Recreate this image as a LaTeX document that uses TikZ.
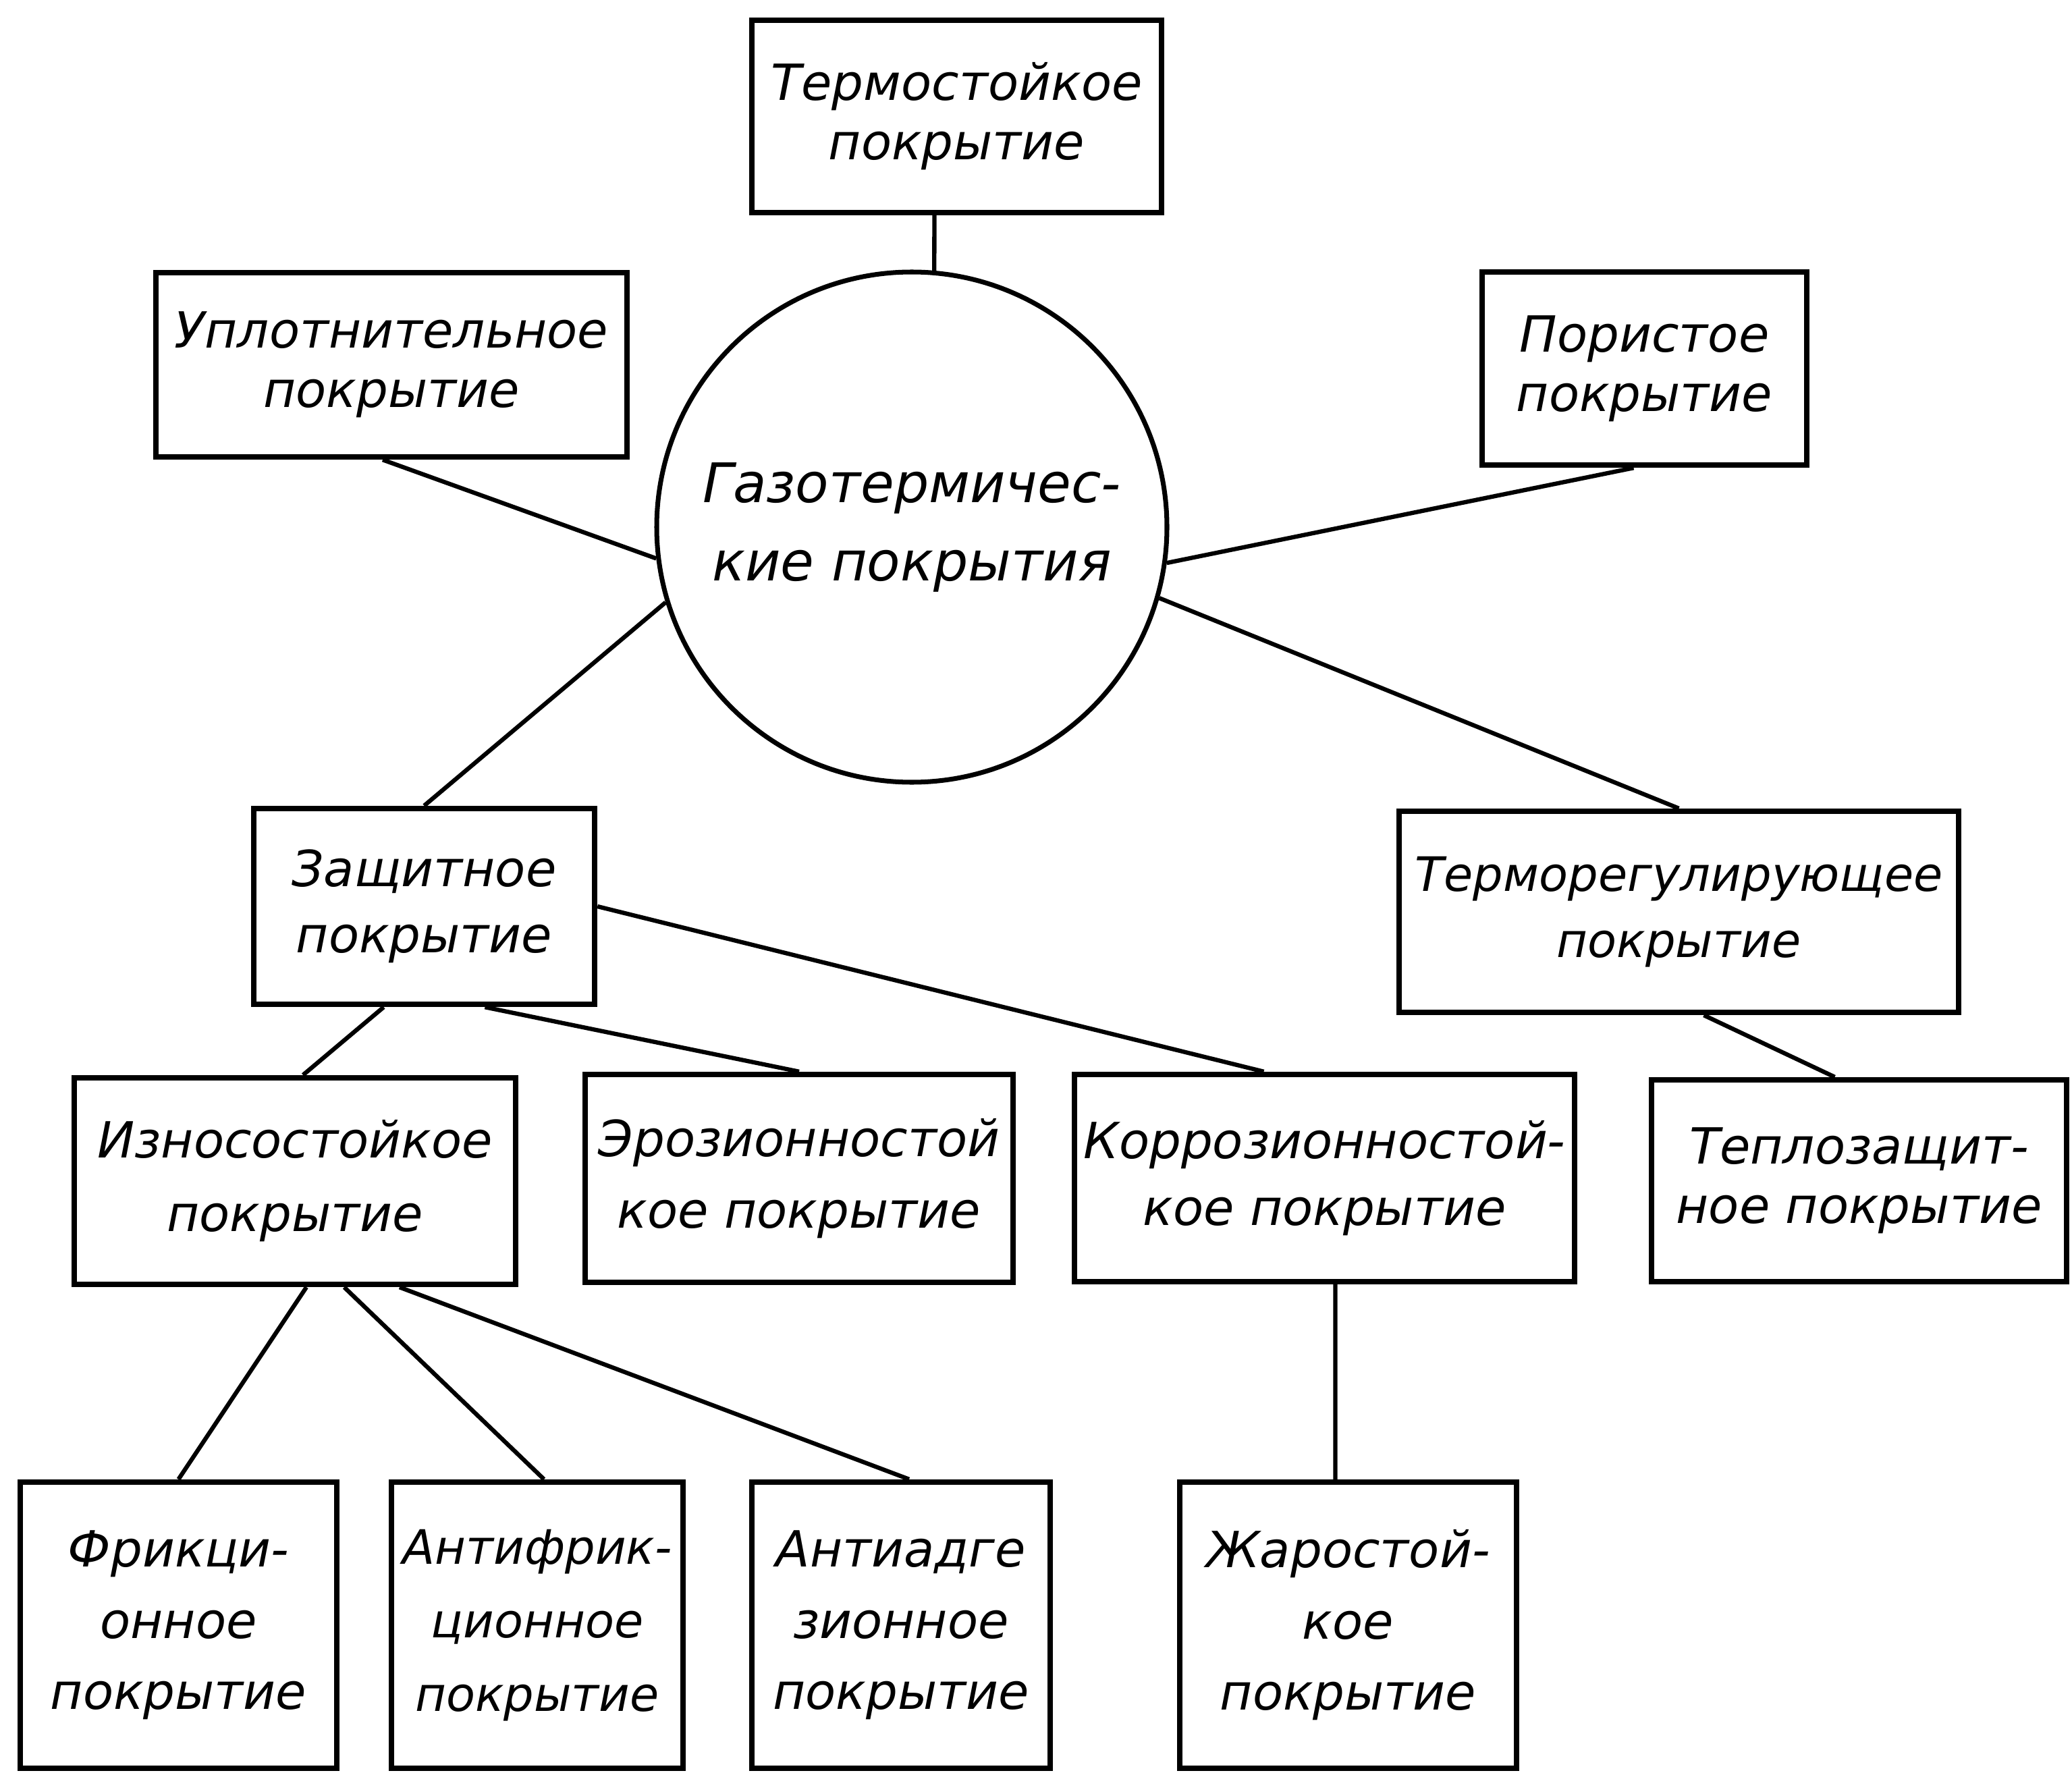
\documentclass[tikz,border=0pt]{standalone}
\usepackage{fontspec}
\setmainfont{DejaVu Sans}
\begin{document}
\begin{tikzpicture}[
        box/.style = {draw, line width = 2.4pt, align = center, inner sep = 0pt,
            font = \fontsize{21}{25}\selectfont\itshape},
        tallbox/.style = {box, minimum height = 4.24cm},
        link/.style = {line width = 1.8pt}
    ]
    \useasboundingbox (0, 0) rectangle (30.70, -26.27);
    \node [draw, circle, line width = 2pt, minimum size = 7.56cm, inner sep = 0pt,
        align = center, font = \fontsize{23}{28}\selectfont\itshape]
        (gaz) at (13.51, -7.81) {Газотермичес-\\[5pt]кие покрытия};
    \node [box, minimum width = 6.07cm, minimum height = 2.85cm] (termo) at (14.175, -1.725) {Термостойкое\\покрытие};
    \node [box, minimum width = 6.98cm, minimum height = 2.73cm] (uplot) at (5.80, -5.405) {Уплотнительное\\покрытие};
    \node [box, minimum width = 4.81cm, minimum height = 2.86cm] (por) at (24.365, -5.46) {Пористое\\покрытие};
    \node [box, minimum width = 5.05cm, minimum height = 2.90cm] (zasch) at (6.285, -13.43) {Защитное\\[3pt]покрытие};
    \node [box, minimum width = 8.29cm, minimum height = 2.98cm, font = \fontsize{20}{25}\selectfont\itshape]
        (termoreg) at (24.875, -13.51) {Терморегулирующее\\[3pt]покрытие};
    \node [box, minimum width = 6.54cm, minimum height = 3.06cm] (izn) at (4.37, -17.50) {Износостойкое\\[6pt]покрытие};
    \node [box, minimum width = 6.34cm, minimum height = 3.08cm] (eroz) at (11.84, -17.46) {Эрозионностой\\[5pt]кое покрытие};
    \node [box, minimum width = 7.41cm, minimum height = 3.07cm] (korr) at (19.625, -17.455) {Коррозионностой-\\[3pt]кое покрытие};
    \node [box, minimum width = 6.15cm, minimum height = 2.99cm] (teplo) at (27.545, -17.495) {Теплозащит-\\ное покрытие};
    \node [tallbox, minimum width = 4.69cm] (frik) at (2.645, -24.08) {Фрикци-\\[5pt]онное\\[5pt]покрытие};
    \node [tallbox, minimum width = 4.32cm, font = \fontsize{20}{25}\selectfont\itshape]
        (antifr) at (7.96, -24.08) {Антифрик-\\[6pt]ционное\\[6pt]покрытие};
    \node [tallbox, minimum width = 4.42cm] (antiadg) at (13.35, -24.08) {Антиадге\\[5pt]зионное\\[5pt]покрытие};
    \node [tallbox, minimum width = 4.99cm] (zhar) at (19.975, -24.08) {Жаростой-\\[5pt]кое\\[5pt]покрытие};
    \draw [link]
        ([xshift = -3.3mm]termo.south) -- (gaz.85)
        ([xshift = -1.3mm]uplot.south) -- (gaz.187)
        ([xshift = -1.6mm]por.south) -- (gaz.352)
        (gaz.197) -- (zasch.north)
        (gaz.344) -- (termoreg.north)
    ;
    \draw [link]
        ([xshift = -6mm]zasch.south) -- ([xshift = 1.2mm]izn.north)
        ([xshift = 9mm]zasch.south) -- (eroz.north)
        (zasch.east) -- ([xshift = -9mm]korr.north)
        ([xshift = 3.7mm]termoreg.south) -- ([xshift = -3.6mm]teplo.north)
    ;
    \draw [link]
        ([xshift = 1.7mm]izn.south) -- (frik.north)
        ([xshift = 7.3mm]izn.south) -- ([xshift = 1mm]antifr.north)
        ([xshift = 15.5mm]izn.south) -- ([xshift = 1.2mm]antiadg.north)
        ([xshift = 1.6mm]korr.south) -- ([xshift = 1.6mm]korr.south |- zhar.north)
    ;
\end{tikzpicture}
\end{document}
